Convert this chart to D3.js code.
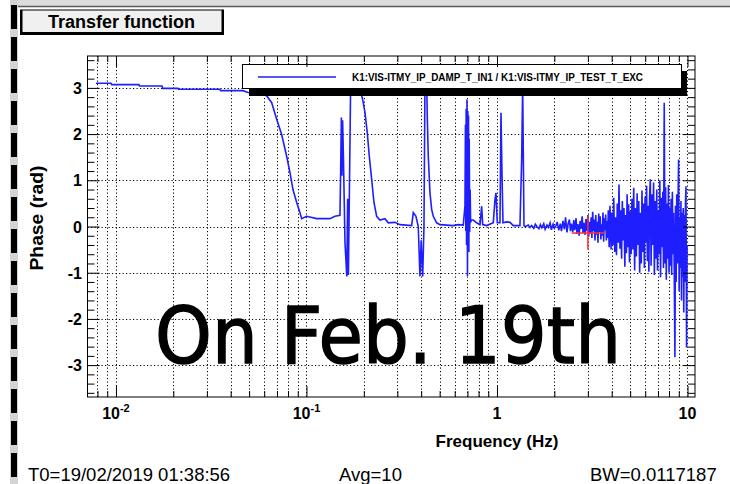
<!DOCTYPE html>
<html>
<head>
<meta charset="utf-8">
<script src="https://d3js.org/d3.v7.min.js"></script>
<style>
  body { margin: 0; background: #fff; }
  svg { display: block; }
  text { font-family: "Liberation Sans", Arial, Helvetica, sans-serif; }
</style>
</head>
<body>
<svg id="chart" width="730" height="484"></svg>
<script>
// Phase of the transfer function (Hz, rad)
// smooth part and the resonances below ~1.4 Hz
const freqMain = [0.00785, 0.00941, 0.00950, 0.01320, 0.01330, 0.01744, 0.01760, 0.02116, 0.02130, 0.03515,
  0.03540, 0.04642, 0.04931, 0.05563, 0.06180, 0.06568, 0.06978, 0.07410, 0.07870, 0.08190,
  0.08495, 0.08884, 0.09245, 0.09436, 0.1002, 0.1131, 0.1328, 0.1411, 0.1499, 0.1512,
  0.1525, 0.1535, 0.1548, 0.1564, 0.1593, 0.1628, 0.1645, 0.1660, 0.1706, 0.1797,
  0.1909, 0.1972, 0.2028, 0.2085, 0.2137, 0.2199, 0.2261, 0.2336, 0.2430, 0.2583,
  0.2688, 0.2914, 0.3096, 0.3566, 0.3636, 0.3756, 0.3862, 0.3942, 0.4000, 0.4074,
  0.4138, 0.4188, 0.4276, 0.4306, 0.4359, 0.4449, 0.4541, 0.4630, 0.4825, 0.5019,
  0.5445, 0.5897, 0.6264, 0.6654, 0.6792, 0.6830, 0.6860, 0.6890, 0.6920, 0.6959,
  0.7000, 0.7030, 0.7060, 0.7090, 0.7120, 0.7150, 0.7190, 0.7230, 0.7270, 0.7366,
  0.7511, 0.7822, 0.8144, 0.8311, 0.8413, 0.8829, 0.9563, 0.9761, 0.9880, 1.0036,
  1.0369, 1.0495, 1.0623, 1.0752, 1.124, 1.170, 1.218, 1.320, 1.348, 1.364,
  1.386, 1.403];
const phaseMain = [3.10, 3.10, 3.07, 3.07, 3.04, 3.04, 2.99, 2.99, 2.97, 2.97,
  2.94, 2.94, 2.90, 2.88, 2.83, 2.68, 2.32, 1.99, 1.52, 1.17,
  0.80, 0.52, 0.30, 0.17, 0.22, 0.17, 0.17, 0.22, 0.24, 1.23,
  2.36, 1.10, 2.30, 1.45, -0.35, -1.08, 0.60, -1.05, 3.10, 3.12,
  2.98, 2.75, 2.47, 2.03, 1.52, 1.02, 0.52, 0.22, 0.14, 0.17,
  0.08, 0.09, 0.04, 0.02, 0.30, 0.22, 0.00, -1.08, -0.30, -1.08,
  0.00, 3.10, 3.12, 2.39, 1.52, 0.73, 0.37, 0.22, 0.08, 0.04,
  0.03, 0.02, 0.04, 0.03, 0.44, 2.20, -0.10, 2.55, -0.40, 2.75,
  -1.07, 2.50, -0.15, 2.40, -0.55, 1.90, -0.12, 0.80, 0.10, 0.14,
  0.14, 0.08, 0.04, 0.44, 0.04, 0.02, 0.08, 0.58, 0.73, 0.08,
  0.08, 2.46, 1.16, 0.08, 0.10, 0.09, 0.02, 0.02, 1.45, 3.05,
  0.02, 0.00];

// noisy part above ~1.4 Hz
const freqNoise = [1.43, 1.46, 1.49, 1.52, 1.56, 1.59, 1.62, 1.66, 1.69, 1.72,
  1.76, 1.79, 1.83, 1.86, 1.90, 1.93, 1.97, 2.00, 2.04, 2.07,
  2.11, 2.15, 2.18, 2.22, 2.26, 2.29, 2.33, 2.36, 2.40, 2.43,
  2.46, 2.50, 2.53, 2.56, 2.60, 2.63, 2.66, 2.70, 2.73, 2.76,
  2.80, 2.83, 2.86, 2.90, 2.93, 2.96, 3.00, 3.03, 3.06, 3.09,
  3.12, 3.15, 3.18, 3.21, 3.24, 3.27, 3.30, 3.33, 3.36, 3.39,
  3.42, 3.45, 3.48, 3.51, 3.54, 3.57, 3.60, 3.63, 3.66, 3.69,
  3.72, 3.75, 3.78, 3.81, 3.84,
  3.88, 3.92, 3.97, 4.01, 4.06, 4.10, 4.15, 4.19, 4.24, 4.28,
  4.33, 4.37, 4.42, 4.46, 4.51, 4.55, 4.60, 4.64, 4.69, 4.73,
  4.78, 4.82, 4.87, 4.91, 4.96, 5.00,
  5.06, 5.11, 5.17, 5.22, 5.28, 5.33, 5.39, 5.44, 5.50, 5.55,
  5.61, 5.66, 5.72, 5.77, 5.83, 5.88, 5.94, 5.99, 6.05, 6.10,
  6.16, 6.21, 6.27, 6.32, 6.38,
  6.44, 6.51, 6.57, 6.64, 6.70, 6.77, 6.83, 6.90, 6.96, 7.03,
  7.09, 7.16, 7.22, 7.29, 7.35, 7.42, 7.48, 7.55, 7.61, 7.68,
  7.74, 7.81, 7.87, 7.94, 8.00, 8.07, 8.13,
  8.20, 8.26, 8.33, 8.39, 8.46, 8.52, 8.59, 8.65, 8.72, 8.78,
  8.85, 8.91, 8.98, 9.04, 9.11, 9.17, 9.24, 9.30, 9.37, 9.43,
  9.50, 9.56, 9.63, 9.69, 9.76, 9.82, 9.89, 9.95];
const phaseNoise = [0.01, 0.03, -0.02, 0.02, -0.04, 0.05, 0.00, -0.05, 0.04, -0.03,
  0.06, -0.06, 0.03, -0.02, 0.08, -0.07, 0.05, -0.04, 0.02, 0.10,
  -0.08, 0.06, -0.10, 0.12, -0.06, 0.20, -0.13, 0.05, 0.15, -0.10,
  0.06, -0.12, 0.14, -0.08, 0.18, -0.16, 0.05, -0.20, 0.12, -0.05,
  0.22, -0.14, 0.08, -0.18, 0.16, -0.10, 0.25, -0.22, 0.10, -0.15,
  0.20, -0.25, 0.32, -0.10, 0.15, -0.30, 0.25, -0.18, 0.10, -0.35,
  0.28, -0.12, 0.22, -0.28, 0.05, -0.20, 0.30, -0.33, 0.18, -0.08,
  0.26, -0.30, 0.12, -0.25, 0.35,
  -0.45, 0.45, -0.50, 0.30, -0.40, 0.62, -0.55, 0.20, -0.62, 0.50,
  -0.35, 0.91, -0.48, 0.35, -0.70, 0.55, -0.30, 0.40, -0.87, 0.25,
  -0.58, 0.70, -0.45, 0.48, -0.78, 0.33,
  -0.60, 0.60, -0.50, 0.84, -0.95, 0.40, -0.65, 0.72, -0.40, 0.55,
  -1.00, 0.30, -0.80, 0.78, -0.55, 0.50, -0.90, 0.65, -0.35, 0.88,
  -0.75, 0.45, -0.98, 0.60, 1.02,
  -0.85, 0.70, -0.40, 0.95, -1.05, 0.55, -0.70, 0.80, -0.95, 0.35,
  -0.60, 1.00, -1.10, 0.62, -0.45, 0.75, -0.90, 2.68, -0.80, 0.85,
  -1.15, 0.50, -0.70, 0.90, -1.00, 0.40, -0.85,
  0.60, -1.05, 0.75, -0.60, 0.30, -0.95, -2.83, 0.45, -1.20, 0.70,
  -0.80, 0.35, 1.45, -1.40, 0.20, -0.90, 0.55, -1.60, 0.30, -1.10,
  0.40, -1.86, 0.25, -1.20, 0.50, 0.87, -2.62, -0.40];

// red cursor cross (Hz / rad)
const cursorFreq = [2.47, 3.00, 3.69];
const cursorPhase = [0.22, -0.14, -0.50];

// axes
const xMajor = [0.01, 0.1, 1, 10];
const xMajorBase = ["10", "10", "1", "10"];
const xMajorExp = ["-2", "-1", "", ""];
const yMajor = [-3, -2, -1, 0, 1, 2, 3];
const yMinor = [-3.6, -3.4, -3.2, -2.8, -2.6, -2.4, -2.2, -1.8, -1.6, -1.4, -1.2, -0.8, -0.6, -0.4, -0.2,
  0.2, 0.4, 0.6, 0.8, 1.2, 1.4, 1.6, 1.8, 2.2, 2.4, 2.6, 2.8, 3.2, 3.4, 3.6];

const legendText = "K1:VIS-ITMY_IP_DAMP_T_IN1 / K1:VIS-ITMY_IP_TEST_T_EXC";

const svg = d3.select("#chart");
const blue = "#1e1eff";

// plot frame
const fx0 = 87.5, fx1 = 695, fy0 = 56, fy1 = 397;
const x = d3.scaleLog().domain([0.00709, 10.95]).range([fx0, fx1]);
const y = d3.scaleLinear().domain([-3.69, 3.69]).range([fy1, fy0]);

// window decoration (screen grab edges)
svg.append("rect").attr("x", 17).attr("y", 0).attr("width", 713).attr("height", 6).attr("fill", "#dcdcdc");
svg.append("line").attr("x1", 17).attr("x2", 730).attr("y1", 6.5).attr("y2", 6.5)
  .attr("stroke", "#5a5a5a").attr("stroke-width", 1.5);
svg.append("rect").attr("x", 10).attr("y", 0).attr("width", 8).attr("height", 484).attr("fill", "#d4d4d4");
svg.append("line").attr("x1", 14).attr("x2", 14).attr("y1", 5).attr("y2", 484)
  .attr("stroke", "#000").attr("stroke-width", 6).attr("stroke-dasharray", "24 8");

// title box
svg.append("rect").attr("x", 20).attr("y", 9.5).attr("width", 204).attr("height", 25.5).attr("fill", "#000");
svg.append("rect").attr("x", 22.5).attr("y", 10.5).attr("width", 199).attr("height", 21.5).attr("fill", "#f0f0f0");
svg.append("text").attr("x", 48).attr("y", 28).attr("font-size", 18).attr("font-weight", "bold")
  .text("Transfer function");

// grid
const xGrid = x.ticks();
const grid = svg.append("g").attr("stroke", "#000").attr("stroke-width", 1).attr("stroke-dasharray", "1.2 2.3");
grid.selectAll(".gx").data(xGrid).join("line")
  .attr("x1", d => Math.round(x(d)) + 0.5).attr("x2", d => Math.round(x(d)) + 0.5)
  .attr("y1", fy0).attr("y2", fy1);
grid.selectAll(".gy").data(yMajor).join("line")
  .attr("y1", d => Math.round(y(d)) + 0.5).attr("y2", d => Math.round(y(d)) + 0.5)
  .attr("x1", fx0).attr("x2", fx1);

// curve
svg.append("clipPath").attr("id", "clip").append("rect")
  .attr("x", fx0).attr("y", fy0).attr("width", fx1 - fx0).attr("height", fy1 - fy0);

const pts = freqMain.map((f, i) => [f, phaseMain[i]])
  .concat(freqNoise.map((f, i) => [f, phaseNoise[i]]));
const line = d3.line().x(d => x(d[0])).y(d => y(d[1]));
svg.append("path").datum(pts)
  .attr("clip-path", "url(#clip)")
  .attr("fill", "none").attr("stroke", blue).attr("stroke-width", 1.6)
  .attr("stroke-linejoin", "miter").attr("d", line);

// cursor
const cur = svg.append("g").attr("stroke", "#ff3030").attr("stroke-width", 1.5);
cur.append("line").attr("x1", x(cursorFreq[0])).attr("x2", x(cursorFreq[2]))
  .attr("y1", y(cursorPhase[1])).attr("y2", y(cursorPhase[1]));
cur.append("line").attr("x1", x(cursorFreq[1])).attr("x2", x(cursorFreq[1]))
  .attr("y1", y(cursorPhase[0])).attr("y2", y(cursorPhase[2]));

// legend
svg.append("rect").attr("x", 249).attr("y", 71).attr("width", 438).attr("height", 25).attr("fill", "#000");
svg.append("rect").attr("x", 242.5).attr("y", 64.5).attr("width", 439).attr("height", 24)
  .attr("fill", "#fff").attr("stroke", "#000");
svg.append("line").attr("x1", 258).attr("x2", 336).attr("y1", 77).attr("y2", 77)
  .attr("stroke", blue).attr("stroke-width", 1.5);
svg.append("text").attr("x", 352).attr("y", 80.5).attr("font-size", 10).attr("font-weight", "bold")
  .attr("textLength", 291).attr("lengthAdjust", "spacingAndGlyphs").text(legendText);

// frame and ticks (ROOT style, inward on all four sides)
svg.append("rect").attr("x", fx0).attr("y", fy0).attr("width", fx1 - fx0).attr("height", fy1 - fy0)
  .attr("fill", "none").attr("stroke", "#000");

const xMinor = xGrid.filter(d => !xMajor.includes(d));
function noDomain(g) { g.select(".domain").remove(); }
svg.append("g").attr("transform", `translate(0,${fy1})`)
  .call(d3.axisBottom(x).tickValues(xMinor).tickSize(-6).tickFormat("")).call(noDomain);
svg.append("g").attr("transform", `translate(0,${fy1})`)
  .call(d3.axisBottom(x).tickValues(xMajor).tickSize(-11).tickFormat("")).call(noDomain);
svg.append("g").attr("transform", `translate(0,${fy0})`)
  .call(d3.axisTop(x).tickValues(xMinor).tickSize(-6).tickFormat("")).call(noDomain);
svg.append("g").attr("transform", `translate(0,${fy0})`)
  .call(d3.axisTop(x).tickValues(xMajor).tickSize(-11).tickFormat("")).call(noDomain);
svg.append("g").attr("transform", `translate(${fx0},0)`)
  .call(d3.axisLeft(y).tickValues(yMinor).tickSize(-7).tickFormat("")).call(noDomain);
svg.append("g").attr("transform", `translate(${fx0},0)`)
  .call(d3.axisLeft(y).tickValues(yMajor).tickSize(-12).tickFormat("")).call(noDomain);
svg.append("g").attr("transform", `translate(${fx1},0)`)
  .call(d3.axisRight(y).tickValues(yMinor).tickSize(-7).tickFormat("")).call(noDomain);
svg.append("g").attr("transform", `translate(${fx1},0)`)
  .call(d3.axisRight(y).tickValues(yMajor).tickSize(-12).tickFormat("")).call(noDomain);

// tick labels
svg.append("g").selectAll("text").data(yMajor).join("text")
  .attr("x", 82).attr("y", d => y(d) + 6)
  .attr("text-anchor", "end").attr("font-size", 16).attr("font-weight", "bold")
  .text(d => d);

const xl = svg.append("g").selectAll("text").data(xMajor).join("text")
  .attr("x", d => x(d)).attr("y", 419)
  .attr("text-anchor", "middle").attr("font-size", 16).attr("font-weight", "bold");
xl.append("tspan").text((d, i) => xMajorBase[i]);
xl.append("tspan").attr("dy", -7).attr("font-size", 11).text((d, i) => xMajorExp[i]);

// axis titles
svg.append("text").attr("x", 497).attr("y", 447).attr("text-anchor", "middle")
  .attr("font-size", 17).attr("font-weight", "bold").text("Frequency (Hz)");
svg.append("text").attr("transform", "translate(43,218) rotate(-90)").attr("text-anchor", "middle")
  .attr("font-size", 18).attr("font-weight", "bold")
  .attr("textLength", 105).attr("lengthAdjust", "spacingAndGlyphs").text("Phase (rad)");

// annotation (stroke thickens the horizontally squeezed glyphs)
svg.append("text").attr("x", 155).attr("y", 363)
  .style("font-family", "'DejaVu Sans', Verdana, sans-serif")
  .attr("font-size", 79).attr("stroke", "#000").attr("stroke-width", 1.4)
  .attr("textLength", 466).attr("lengthAdjust", "spacingAndGlyphs").text("On Feb. 19th");

// status line
const status = [["T0=19/02/2019 01:38:56", 28], ["Avg=10", 339], ["BW=0.0117187", 590]];
svg.append("g").selectAll("text").data(status).join("text")
  .attr("x", d => d[1]).attr("y", 481).attr("font-size", 18.5).text(d => d[0]);
</script>
</body>
</html>
